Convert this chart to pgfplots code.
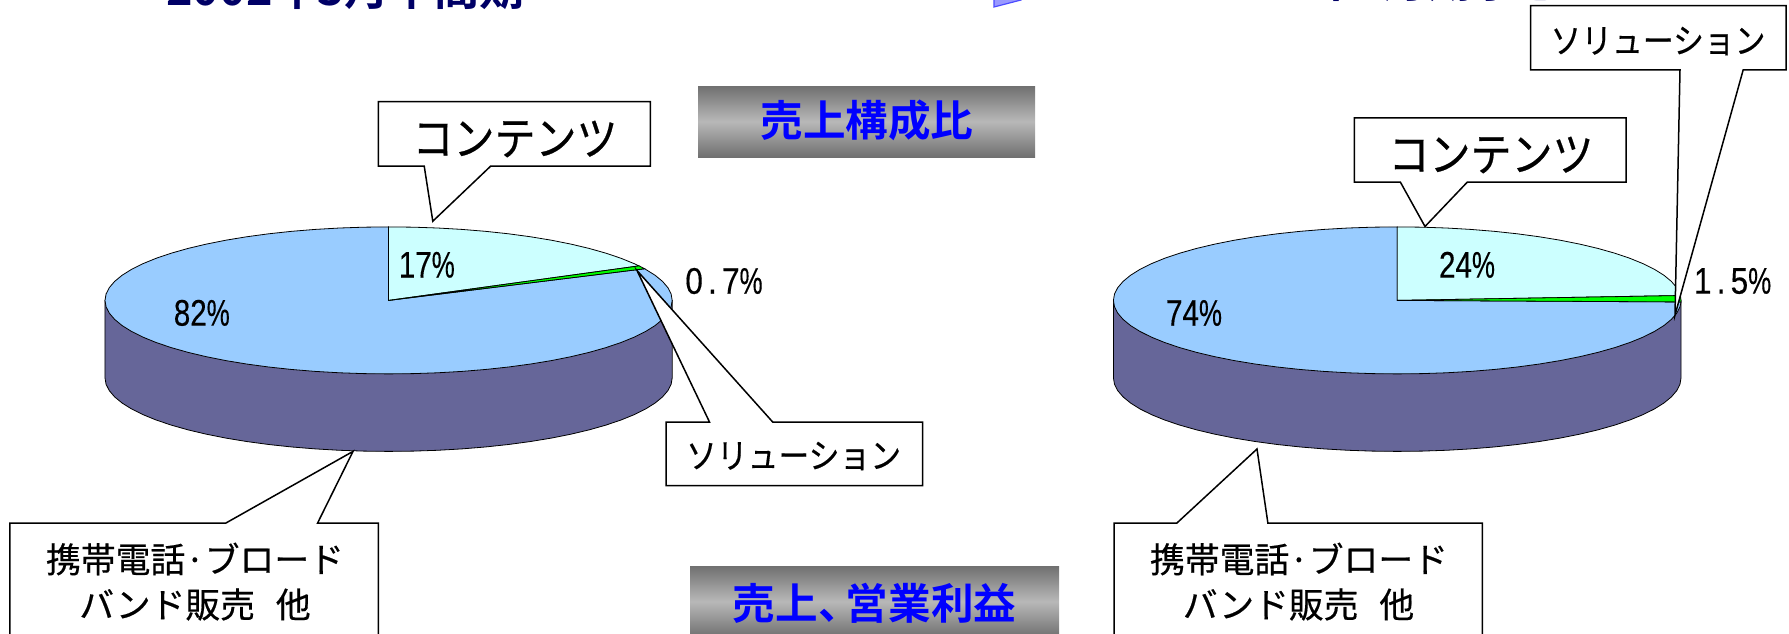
\documentclass[border=0pt]{standalone}
\usepackage{pgfplots}
\pgfplotsset{compat=1.18}
\usepackage{pgfplotstable}
\usepackage{fontspec}
\setmainfont{Liberation Sans}[FakeBold=0.35]
\newfontfamily\jp{Noto Sans CJK JP}[FakeBold=0.45]
\newfontfamily\jpb{Noto Sans CJK JP Bold}
\definecolor{wall}{HTML}{666699}
\definecolor{topblue}{HTML}{99CCFF}
\definecolor{topcyan}{HTML}{CCFFFF}
\definecolor{sliver}{HTML}{00FF00}
\definecolor{navy}{HTML}{000066}
\definecolor{edge}{HTML}{707070}
\definecolor{midg}{HTML}{B8B8B8}
\pgfplotsset{canvas/.style={hide axis,scale only axis,width=894.5pt,height=316.5pt,
  at={(0,0)},anchor=south west,clip=false}}
% side wall of a pie, in units of the pie's radii
\pgfplotstableread{
x y
1 0
1 -1.0544
.9962 -1.1416
.9848 -1.2280
.9659 -1.3132
.9397 -1.3964
.9063 -1.4770
.8660 -1.5544
.8192 -1.6280
.7660 -1.6972
.7071 -1.7615
.6428 -1.8204
.5736 -1.8736
.5 -1.9204
.4226 -1.9607
.3420 -1.9941
.2588 -2.0203
.1736 -2.0392
.0872 -2.0506
0 -2.0544
-.0872 -2.0506
-.1736 -2.0392
-.2588 -2.0203
-.3420 -1.9941
-.4226 -1.9607
-.5 -1.9204
-.5736 -1.8736
-.6428 -1.8204
-.7071 -1.7615
-.7660 -1.6972
-.8192 -1.6280
-.8660 -1.5544
-.9063 -1.4770
-.9397 -1.3964
-.9659 -1.3132
-.9848 -1.2280
-.9962 -1.1416
-1 -1.0544
-1 0
}\walltable
\newcommand\pct[1]{\scalebox{.8}[1]{#1}\scalebox{.7}[1]{\%}}
\newcommand\lab[1]{\fontsize{18.5pt}{20pt}\selectfont #1}
\newcommand\tall[1]{\scalebox{1}[1.12]{#1}}
\begin{document}
\begin{tikzpicture}
\useasboundingbox (0,0) rectangle (894.5pt,316.5pt);
\clip (0,0) rectangle (894.5pt,316.5pt);
% left pie
\begin{axis}[canvas,xmin=-1.3702,xmax=4.9379,ymin=-4.5252,ymax=4.0871]
\addplot[fill=wall,draw=black,line width=.4pt] table[x=x,y=y] {\walltable} -- cycle;
\addplot[fill=topblue,draw=black,line width=.4pt] coordinates {
(0,0)(.9026,.4305)(.9063,.4226)(.9397,.3420)(.9659,.2588)(.9848,.1736)(.9962,.0872)(1,0)
(.9962,-.0872)(.9848,-.1736)(.9659,-.2588)(.9397,-.3420)(.9063,-.4226)(.8660,-.5)(.8192,-.5736)(.7660,-.6428)(.7071,-.7071)(.6428,-.7660)(.5736,-.8192)(.5,-.8660)(.4226,-.9063)(.3420,-.9397)(.2588,-.9659)(.1736,-.9848)(.0872,-.9962)(0,-1)
(-.0872,-.9962)(-.1736,-.9848)(-.2588,-.9659)(-.3420,-.9397)(-.4226,-.9063)(-.5,-.8660)(-.5736,-.8192)(-.6428,-.7660)(-.7071,-.7071)(-.7660,-.6428)(-.8192,-.5736)(-.8660,-.5)(-.9063,-.4226)(-.9397,-.3420)(-.9659,-.2588)(-.9848,-.1736)(-.9962,-.0872)(-1,0)
(-.9962,.0872)(-.9848,.1736)(-.9659,.2588)(-.9397,.3420)(-.9063,.4226)(-.8660,.5)(-.8192,.5736)(-.7660,.6428)(-.7071,.7071)(-.6428,.7660)(-.5736,.8192)(-.5,.8660)(-.4226,.9063)(-.3420,.9397)(-.2588,.9659)(-.1736,.9848)(-.0872,.9962)(0,1)
} -- cycle;
\addplot[fill=topcyan,draw=black,line width=.4pt] coordinates {
(0,0)(0,1)(.0872,.9962)(.1736,.9848)(.2588,.9659)(.3420,.9397)(.4226,.9063)(.5,.8660)(.5736,.8192)(.6428,.7660)(.7071,.7071)(.7660,.6428)(.8192,.5736)(.8660,.5)(.8829,.4695)
} -- cycle;
\addplot[fill=sliver,draw=black,line width=.4pt] coordinates {
(0,0)(.8829,.4695)(.8910,.4540)(.9026,.4305)
} -- cycle;
\end{axis}
% right pie
\begin{axis}[canvas,xmin=-4.9232,xmax=1.3805,ymin=-4.5252,ymax=4.0871]
\addplot[fill=wall,draw=black,line width=.4pt] table[x=x,y=y] {\walltable} -- cycle;
\addplot[fill=topblue,draw=black,line width=.4pt] coordinates {
(0,0)(.9998,-.0209)(.9962,-.0872)(.9848,-.1736)(.9659,-.2588)(.9397,-.3420)(.9063,-.4226)(.8660,-.5)(.8192,-.5736)(.7660,-.6428)(.7071,-.7071)(.6428,-.7660)(.5736,-.8192)(.5,-.8660)(.4226,-.9063)(.3420,-.9397)(.2588,-.9659)(.1736,-.9848)(.0872,-.9962)(0,-1)
(-.0872,-.9962)(-.1736,-.9848)(-.2588,-.9659)(-.3420,-.9397)(-.4226,-.9063)(-.5,-.8660)(-.5736,-.8192)(-.6428,-.7660)(-.7071,-.7071)(-.7660,-.6428)(-.8192,-.5736)(-.8660,-.5)(-.9063,-.4226)(-.9397,-.3420)(-.9659,-.2588)(-.9848,-.1736)(-.9962,-.0872)(-1,0)
(-.9962,.0872)(-.9848,.1736)(-.9659,.2588)(-.9397,.3420)(-.9063,.4226)(-.8660,.5)(-.8192,.5736)(-.7660,.6428)(-.7071,.7071)(-.6428,.7660)(-.5736,.8192)(-.5,.8660)(-.4226,.9063)(-.3420,.9397)(-.2588,.9659)(-.1736,.9848)(-.0872,.9962)(0,1)
} -- cycle;
\addplot[fill=topcyan,draw=black,line width=.4pt] coordinates {
(0,0)(0,1)(.0872,.9962)(.1736,.9848)(.2588,.9659)(.3420,.9397)(.4226,.9063)(.5,.8660)(.5736,.8192)(.6428,.7660)(.7071,.7071)(.7660,.6428)(.8192,.5736)(.8660,.5)(.9063,.4226)(.9397,.3420)(.9659,.2588)(.9848,.1736)(.9962,.0872)(.9978,.0663)
} -- cycle;
\addplot[fill=sliver,draw=black,line width=.4pt] coordinates {
(0,0)(.9978,.0663)(1,0)(.9998,-.0209)
} -- cycle;
\end{axis}
% callouts, boxes and texts, in the picture's pixels
\begin{axis}[canvas,xmin=0,xmax=1789,ymin=0,ymax=633,y dir=reverse]
\path[top color=edge,bottom color=edge,middle color=midg] (axis cs:698,86) rectangle (axis cs:1035,157);
\path[top color=edge,bottom color=edge,middle color=midg] (axis cs:690,566) rectangle (axis cs:1059,637);
\addplot[fill=white,draw=black,line width=.75pt] coordinates {(378.3,101.7)(650.4,101.7)(650.4,166)(490.8,166)(432.8,221.2)(424.2,166)(378.3,166)} -- cycle;
\addplot[fill=white,draw=black,line width=.75pt] coordinates {(666,422)(709.5,422)(637,270.5)(772.7,422)(922.7,422)(922.7,485.7)(666,485.7)} -- cycle;
\addplot[fill=white,draw=black,line width=.75pt] coordinates {(9.8,523.2)(225.6,523.2)(353,451.4)(317.5,523.2)(378.3,523.2)(378.3,650)(9.8,650)} -- cycle;
\addplot[fill=white,draw=black,line width=.75pt] coordinates {(1530.5,5.6)(1786.2,5.6)(1786.2,69.8)(1743.2,69.8)(1675,315)(1680,69.8)(1530.5,69.8)} -- cycle;
\addplot[fill=white,draw=black,line width=.75pt] coordinates {(1354.4,117.9)(1626.2,117.9)(1626.2,182)(1467.4,182)(1425,226.5)(1400.3,182)(1354.4,182)} -- cycle;
\addplot[fill=white,draw=black,line width=.75pt] coordinates {(1114.2,523.2)(1176.7,523.2)(1257,449)(1267.9,523.2)(1482.3,523.2)(1482.3,650)(1114.2,650)} -- cycle;
\addplot[fill=blue!40!white,draw=blue!70!white,line width=.6pt] coordinates {(994,7)(994,-8)(1030,-8)(1021,0)} -- cycle;
\node[font=\jp\fontsize{20.5pt}{22pt}\selectfont] at (axis cs:515,139) {\tall{コンテンツ}};
\node[font=\jp\fontsize{20.5pt}{22pt}\selectfont] at (axis cs:1491,155) {\tall{コンテンツ}};
\node[font=\jp\fontsize{15.4pt}{17pt}\selectfont] at (axis cs:793.6,456) {\tall{ソリューション}};
\node[font=\jp\fontsize{15.4pt}{17pt}\selectfont] at (axis cs:1658,41) {\tall{ソリューション}};
\node[font=\jp\fontsize{17.4pt}{18pt}\selectfont] at (axis cs:195,559) {携帯電話·ブロード};
\node[font=\jp\fontsize{17.4pt}{18pt}\selectfont] at (axis cs:195,604.5) {バンド販売\hspace{.6em}他};
\node[font=\jp\fontsize{17.4pt}{18pt}\selectfont] at (axis cs:1299,559) {携帯電話·ブロード};
\node[font=\jp\fontsize{17.4pt}{18pt}\selectfont] at (axis cs:1298.5,604.5) {バンド販売\hspace{.6em}他};
\node[font=\jpb\fontsize{21.3pt}{23pt}\selectfont,text=blue] at (axis cs:867,120.7) {売上構成比};
\node[font=\jpb\fontsize{21.3pt}{23pt}\selectfont,text=blue] at (axis cs:874.6,603) {売上、\kern-.35em営業利益};
\node[font=\jpb\fontsize{22.5pt}{26pt}\selectfont,text=navy,anchor=base west,inner sep=0pt] at (axis cs:166,5) {2002年3月中間期};
\node[font=\jpb\fontsize{22.5pt}{26pt}\selectfont,text=navy,anchor=base east,inner sep=0pt] at (axis cs:1563,-2.5) {2003年3月期予想};
\node[font=\lab{}] at (axis cs:426.8,264.8) {\pct{17}};
\node[font=\lab{}] at (axis cs:201.8,312.9) {\pct{82}};
\node[font=\lab{}] at (axis cs:724,281) {\scalebox{.85}[1]{0\,.\,7}\scalebox{.7}[1]{\%}};
\node[font=\lab{}] at (axis cs:1467,264.8) {\pct{24}};
\node[font=\lab{}] at (axis cs:1194,313) {\pct{74}};
\node[font=\lab{}] at (axis cs:1732.6,281) {\scalebox{.85}[1]{1\,.\,5}\scalebox{.7}[1]{\%}};
\end{axis}
\end{tikzpicture}
\end{document}
